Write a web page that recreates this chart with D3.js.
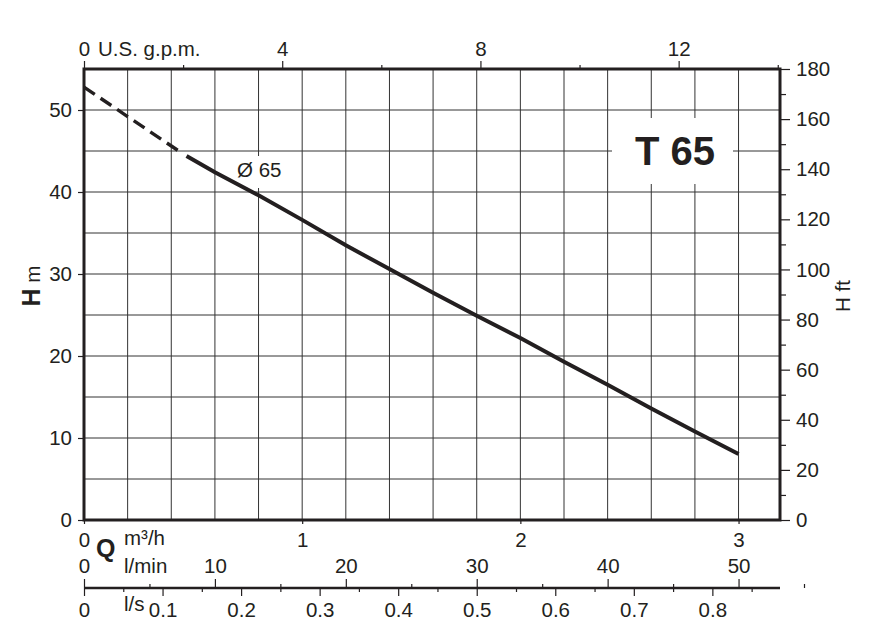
<!DOCTYPE html>
<html>
<head>
<meta charset="utf-8">
<script src="https://cdn.jsdelivr.net/npm/d3@7"></script>
<style>
  body { margin: 0; background: #fff; }
  svg { display: block; font-family: "Liberation Sans", Arial, sans-serif; }
</style>
</head>
<body>
<svg id="chart"></svg>
<script>
// pump curve T 65, flow in m3/h, head in m
const flowDashed = [0, 0.2, 0.44]
const headDashed = [52.8, 49.2, 44.9]
const flowSolid = [0.47, 0.6, 0.8, 1.0, 1.2, 1.4, 1.6, 1.8, 2.0, 2.2, 2.4, 2.6, 2.8, 3.0]
const headSolid = [44.4, 42.4, 39.6, 36.6, 33.5, 30.6, 27.7, 24.9, 22.2, 19.3, 16.5, 13.6, 10.8, 8.05]

const ticksM = [0, 10, 20, 30, 40, 50]
const ticksFt = [0, 20, 40, 60, 80, 100, 120, 140, 160, 180]
const ticksGpm = [0, 4, 8, 12]
const ticksM3h = [0, 1, 2, 3]
const ticksLmin = [0, 10, 20, 30, 40, 50]
const ticksLs = [0, 0.1, 0.2, 0.3, 0.4, 0.5, 0.6, 0.7, 0.8]

const width = 872
const height = 627
const plotL = 84, plotR = 780, plotT = 69, plotB = 520
const qMax = 3.19
const ink = '#231f20'
const fs = 20.5

const svg = d3.select('#chart').attr('width', width).attr('height', height)

// шкалы
const x = d3.scaleLinear().domain([0, qMax]).range([plotL, plotR])
const y = d3.scaleLinear().domain([0, 55]).range([plotB, plotT])
const yFt = d3.scaleLinear().domain([0, 180]).range([plotB, plotT])
const xGpm = d3.scaleLinear().domain([0, qMax * 4.4029]).range([plotL, plotR])
const xLmin = d3.scaleLinear().domain([0, qMax * 1000 / 60]).range([plotL, plotR])
const xLs = d3.scaleLinear().domain([0, qMax / 3.6]).range([plotL, plotR])

// сетка
const grid = svg.append('g').attr('stroke', '#333').attr('stroke-width', 1)
d3.range(0.2, 3.01, 0.2).forEach(q => {
  grid.append('line').attr('x1', x(q)).attr('x2', x(q)).attr('y1', plotT).attr('y2', plotB)
})
d3.range(5, 51, 5).forEach(h => {
  grid.append('line').attr('x1', plotL).attr('x2', plotR).attr('y1', y(h)).attr('y2', y(h))
})

// белые подложки под подписи
svg.append('rect').attr('x', 612).attr('y', 118).attr('width', 121).attr('height', 66).attr('fill', '#fff')
svg.append('rect').attr('x', 233).attr('y', 156).attr('width', 56).attr('height', 32).attr('fill', '#fff')

// оси
function styleAxis (g) {
  g.select('.domain').remove()
  g.selectAll('line').attr('stroke', ink).attr('stroke-width', 1.2)
  g.selectAll('text').attr('fill', ink).style('font-size', fs + 'px')
    .style('font-family', '"Liberation Sans", Arial, sans-serif')
}

svg.append('g').attr('transform', `translate(${plotL},0)`)
  .call(d3.axisLeft(y).tickValues(ticksM).tickSize(6).tickPadding(6))
  .call(styleAxis)

svg.append('g').attr('transform', `translate(${plotR},0)`)
  .call(d3.axisRight(yFt).tickValues(d3.range(10, 180, 20)).tickSize(6).tickFormat(''))
  .call(styleAxis)
svg.append('g').attr('transform', `translate(${plotR},0)`)
  .call(d3.axisRight(yFt).tickValues(ticksFt).tickSize(10).tickPadding(6))
  .call(styleAxis)

svg.append('g').attr('transform', `translate(0,${plotT})`)
  .call(d3.axisTop(xGpm).tickValues([2, 6, 10, 14]).tickSize(4).tickFormat(''))
  .call(styleAxis)
svg.append('g').attr('transform', `translate(0,${plotT})`)
  .call(d3.axisTop(xGpm).tickValues(ticksGpm).tickSize(8).tickPadding(5))
  .call(styleAxis)

svg.append('g').attr('transform', `translate(0,${plotB})`)
  .call(d3.axisBottom(x).tickValues(ticksM3h).tickSize(4).tickPadding(8).tickFormat(d3.format('d')))
  .call(styleAxis)

// нижняя шкала l/min и l/s
const lineY = 588
svg.append('line').attr('x1', plotL).attr('x2', plotR).attr('y1', lineY).attr('y2', lineY)
  .attr('stroke', ink).attr('stroke-width', 2.5)
svg.append('g').attr('transform', `translate(0,${lineY})`)
  .call(d3.axisTop(xLmin).tickValues([5, 15, 25, 35, 45, 55]).tickSize(4).tickFormat(''))
  .call(styleAxis)
svg.append('g').attr('transform', `translate(0,${lineY})`)
  .call(d3.axisTop(xLmin).tickValues(ticksLmin).tickSize(9).tickPadding(6))
  .call(styleAxis)
svg.append('g').attr('transform', `translate(0,${lineY})`)
  .call(d3.axisBottom(xLs).tickValues([0.05, 0.15, 0.25, 0.35, 0.45, 0.55, 0.65, 0.75, 0.85]).tickSize(4).tickFormat(''))
  .call(styleAxis)
svg.append('g').attr('transform', `translate(0,${lineY})`)
  .call(d3.axisBottom(xLs).tickValues(ticksLs).tickSize(8).tickPadding(6).tickFormat(d => d === 0 ? '0' : d3.format('.1f')(d)))
  .call(styleAxis)

// рамка
svg.append('rect').attr('x', plotL).attr('y', plotT).attr('width', plotR - plotL).attr('height', plotB - plotT)
  .attr('fill', 'none').attr('stroke', ink).attr('stroke-width', 3)

// кривая
const line = d3.line().x(d => x(d[0])).y(d => y(d[1]))
svg.append('path').datum(d3.zip(flowDashed, headDashed)).attr('d', line)
  .attr('fill', 'none').attr('stroke', ink).attr('stroke-width', 3.4).attr('stroke-dasharray', '13,7')
svg.append('path').datum(d3.zip(flowSolid, headSolid)).attr('d', line)
  .attr('fill', 'none').attr('stroke', ink).attr('stroke-width', 4)

// подписи
const txt = (tx, ty, s, size, weight, anchor) => svg.append('text')
  .attr('x', tx).attr('y', ty).text(s).attr('fill', ink)
  .style('font-size', size + 'px').style('font-weight', weight || 'normal')
  .attr('text-anchor', anchor || 'start')

txt(98, 56, 'U.S. g.p.m.', fs)
txt(675, 165, 'T 65', 40, 'bold', 'middle')
txt(237, 177, 'Ø 65', fs)
txt(96, 557, 'Q', 25, 'bold')
txt(124, 545, 'm³/h', fs)
txt(124, 573, 'l/min', fs)
txt(124, 611, 'l/s', fs)

svg.append('text').attr('transform', 'translate(40,286) rotate(-90)')
  .attr('text-anchor', 'middle').attr('fill', ink)
  .call(t => t.append('tspan').text('H').style('font-weight', 'bold').style('font-size', '25px'))
  .call(t => t.append('tspan').text(' m').style('font-size', fs + 'px'))

svg.append('text').attr('transform', 'translate(850,296) rotate(-90)')
  .attr('text-anchor', 'middle').attr('fill', ink).style('font-size', fs + 'px').text('H ft')
</script>
</body>
</html>
